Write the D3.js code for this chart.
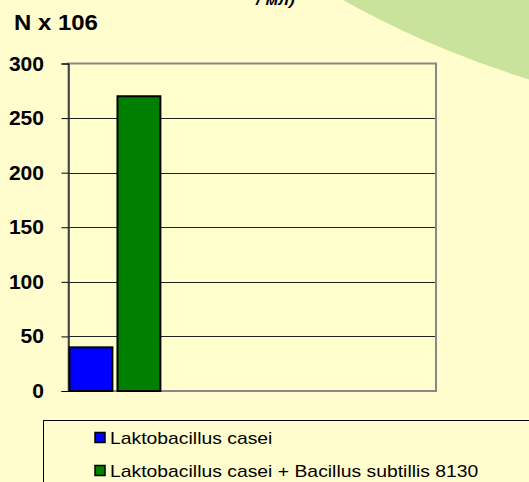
<!DOCTYPE html>
<html>
<head>
<meta charset="utf-8">
<script src="https://cdn.jsdelivr.net/npm/d3@7"></script>
<style>
  html, body { margin: 0; padding: 0; background: #FFFCCD; }
  svg { display: block; }
</style>
</head>
<body>
<svg id="chart" width="529" height="482"></svg>
<script>
// ---- data ----
const categories = ["1", "2", "3", "4"];
const seriesNames = ["Laktobacillus casei", "Laktobacillus casei + Bacillus subtillis 8130"];
const caseiValues = [40, null, null, null];
const comboValues = [270, null, null, null];
const seriesColors = ["#0000FF", "#008000"];
const yTicks = [0, 50, 100, 150, 200, 250, 300];
const yLabel = "N x 106";
const titleFragment = "/ мл)";

const allSeries = [caseiValues, comboValues];

const svg = d3.select("#chart");
const W = 529, H = 482;
const m = { left: 68.5, right: 93, top: 63.5, bottom: 91 };
const plotW = W - m.left - m.right;
const plotH = H - m.top - m.bottom;

// background + decorative circle
svg.append("rect").attr("width", W).attr("height", H).attr("fill", "#FFFCCD");
svg.append("circle").attr("cx", 812).attr("cy", -840).attr("r", 962).attr("fill", "#C9E29C");

// title fragment (cut off at top)
svg.append("text")
  .attr("transform", "translate(256,5) scale(1.15,1)")
  .attr("font-family", "Arial, 'Liberation Sans', sans-serif")
  .attr("font-weight", "bold").attr("font-style", "italic")
  .attr("font-size", 15).attr("fill", "#000")
  .text(titleFragment);

// y label
svg.append("text")
  .attr("transform", "translate(14,30) scale(1.09,1)")
  .attr("font-family", "Arial, 'Liberation Sans', sans-serif")
  .attr("font-weight", "bold").attr("font-size", 22).attr("fill", "#000")
  .text(yLabel);

const y = d3.scaleLinear().domain([0, 300]).range([m.top + plotH, m.top]);
const x0 = d3.scaleBand().domain(categories).range([m.left, m.left + plotW]).padding(0);
const x1 = d3.scaleBand().domain(d3.range(allSeries.length)).range([0, x0.bandwidth()]).paddingInner(0.085).paddingOuter(0);

// plot area
svg.append("rect")
  .attr("x", m.left).attr("y", m.top).attr("width", plotW).attr("height", plotH)
  .attr("fill", "#FFFECD");

// gridlines
svg.append("g").selectAll("line")
  .data(yTicks.filter(t => t > 0 && t < 300))
  .join("line")
  .attr("x1", m.left).attr("x2", m.left + plotW)
  .attr("y1", d => Math.round(y(d)) + 0.5).attr("y2", d => Math.round(y(d)) + 0.5)
  .attr("stroke", "#222").attr("stroke-width", 1);

// border (gray)
svg.append("rect")
  .attr("x", m.left).attr("y", m.top).attr("width", plotW).attr("height", plotH)
  .attr("fill", "none").attr("stroke", "#888").attr("stroke-width", 2);

// bars
const barData = [];
categories.forEach((c, ci) => {
  allSeries.forEach((s, si) => {
    if (s[ci] != null) barData.push({ c, si, v: s[ci] });
  });
});
svg.append("g").selectAll("rect")
  .data(barData)
  .join("rect")
  .attr("x", d => x0(d.c) + x1(d.si) + 1)
  .attr("y", d => y(d.v))
  .attr("width", x1.bandwidth() - 1)
  .attr("height", d => y(0) - y(d.v))
  .attr("fill", d => seriesColors[d.si])
  .attr("stroke", "#000").attr("stroke-width", 2);

// left axis
const yAxis = d3.axisLeft(y).tickValues(yTicks).tickSize(7).tickFormat("");
const ga = svg.append("g").attr("transform", `translate(${m.left},0)`).call(yAxis);
ga.select(".domain").attr("stroke", "#000").attr("stroke-width", 1);
ga.selectAll(".tick line").attr("stroke", "#000");

// tick labels
svg.append("g").selectAll("text")
  .data(yTicks)
  .join("text")
  .attr("transform", d => `translate(44,${y(d) + 7}) scale(1.08,1)`)
  .attr("text-anchor", "end")
  .attr("font-family", "Arial, 'Liberation Sans', sans-serif")
  .attr("font-weight", "bold").attr("font-size", 19.5).attr("fill", "#000")
  .text(d => d);

// legend
svg.append("rect")
  .attr("x", 43.5).attr("y", 420.5).attr("width", 600).attr("height", 200)
  .attr("fill", "none").attr("stroke", "#000").attr("stroke-width", 1);
const lg = svg.append("g").selectAll("g")
  .data(seriesNames)
  .join("g")
  .attr("transform", (d, i) => `translate(0,${i * 33})`);
lg.append("rect")
  .attr("x", 95).attr("y", 432.5).attr("width", 10).attr("height", 10)
  .attr("fill", (d, i) => seriesColors[i]).attr("stroke", "#000").attr("stroke-width", 1.5);
lg.append("text")
  .attr("transform", "translate(110,444) scale(1.21,1)")
  .attr("font-family", "Arial, 'Liberation Sans', sans-serif")
  .attr("font-size", 16).attr("fill", "#000")
  .text(d => d);
</script>
</body>
</html>
